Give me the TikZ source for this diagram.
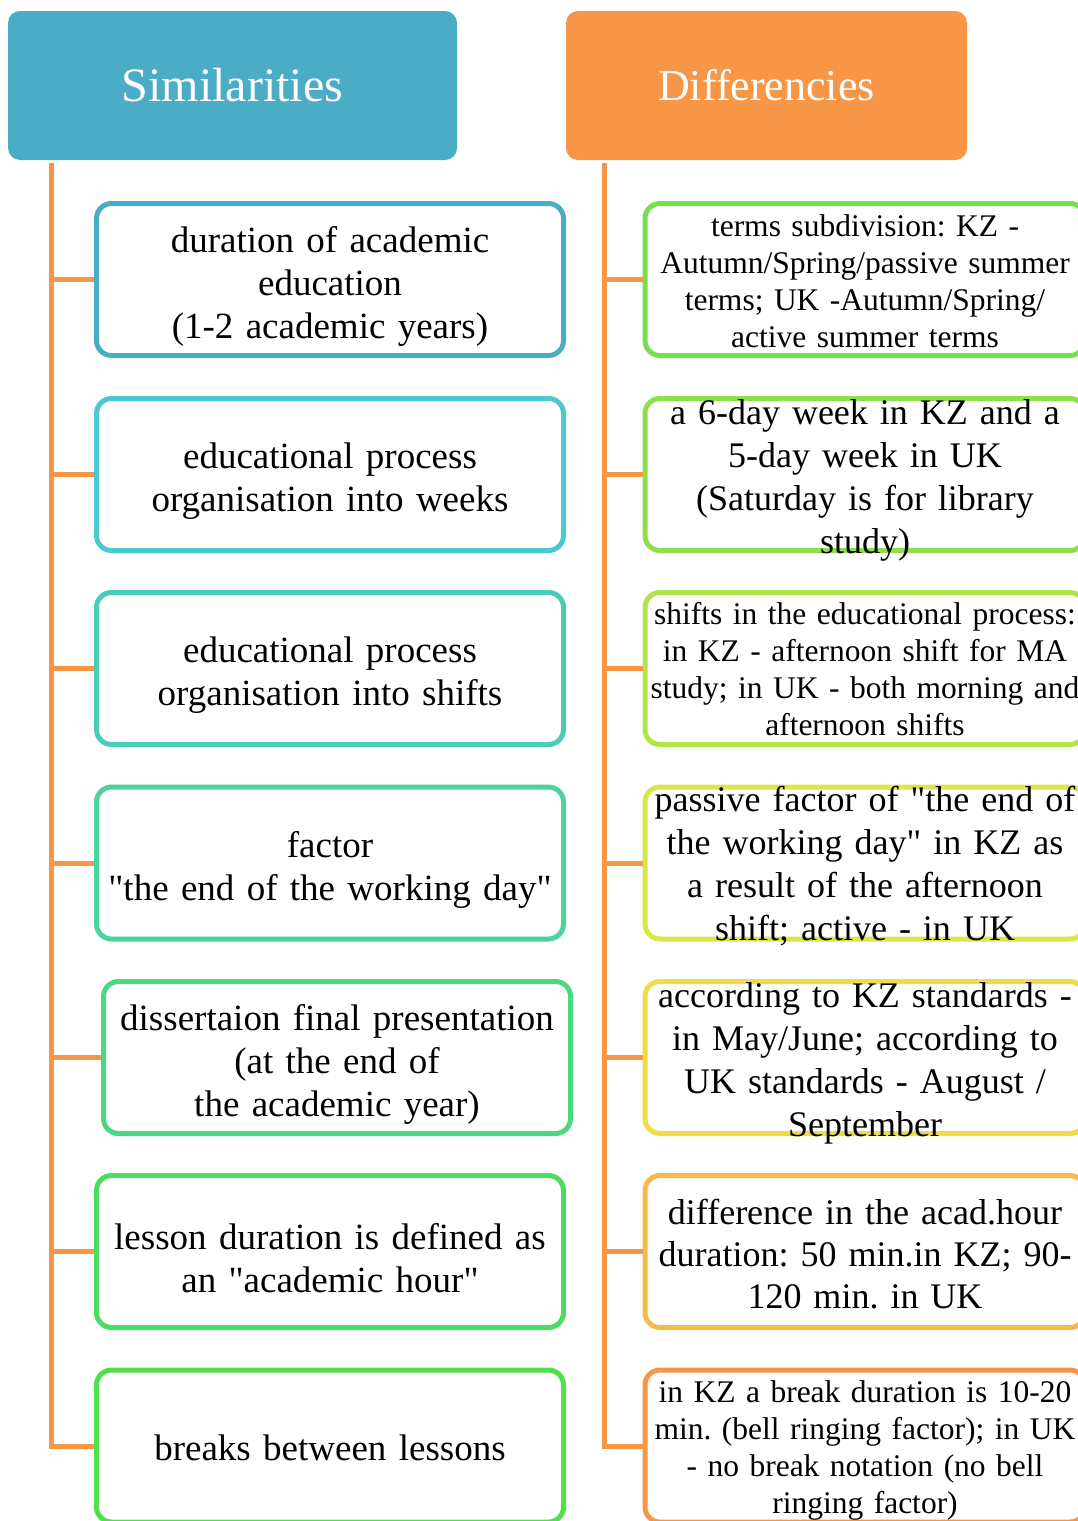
\documentclass[tikz,border=0pt]{standalone}
\usepackage{fontspec}
\setmainfont{Liberation Serif}
\definecolor{simhead}{HTML}{4BACC6}
\definecolor{difhead}{HTML}{F79646}
\definecolor{sim1}{HTML}{4BACC6}
\definecolor{sim2}{HTML}{4CC9D0}
\definecolor{sim3}{HTML}{4BCDB5}
\definecolor{sim4}{HTML}{4BD39B}
\definecolor{sim5}{HTML}{4BD883}
\definecolor{sim6}{HTML}{4CDC62}
\definecolor{sim7}{HTML}{4FE04B}
\definecolor{dif1}{HTML}{74E04B}
\definecolor{dif2}{HTML}{8EE04B}
\definecolor{dif3}{HTML}{B2E34B}
\definecolor{dif4}{HTML}{D8E84B}
\definecolor{dif5}{HTML}{F3DA4B}
\definecolor{dif6}{HTML}{F5BA4B}
\definecolor{dif7}{HTML}{F79646}
\newcommand{\qt}{\textquotedbl}

\begin{document}
\frenchspacing
\begin{tikzpicture}[x=1pt, y=-1pt,
  head/.style={rounded corners=12pt, minimum height=149pt, inner sep=0pt,
               text=white},
  simbox/.style={draw, line width=5pt, rounded corners=15pt, fill=white,
                 minimum width=467pt, minimum height=152pt, inner sep=0pt},
  difbox/.style={draw, line width=5pt, rounded corners=15pt, fill=white,
                 minimum width=440pt, minimum height=152pt, inner sep=0pt},
  big/.style={align=center, text width=470pt, inner sep=0pt,
              font=\fontsize{37}{43}\selectfont},
  mid/.style={align=center, text width=440pt, inner sep=0pt,
              font=\fontsize{36}{43}\selectfont},
  small/.style={align=center, text width=440pt, inner sep=0pt,
                font=\fontsize{31.5}{37}\selectfont},
  branch/.style={line width=5pt, difhead},
]
\useasboundingbox (0,0) rectangle (1077,1521);

\node[head, fill=simhead, minimum width=449pt, font=\fontsize{48}{52}\selectfont] (sim) at (232.5,85.5) {Similarities};
\node[head, fill=difhead, minimum width=401pt, font=\fontsize{44}{52}\selectfont] (dif) at (766.5,85.5) {Differencies};

\coordinate (ltop) at (51,163);
\coordinate (rtop) at (604,163);

\node[simbox, draw=sim1] (s1) at (330,279.5) {};
\node[simbox, draw=sim2] (s2) at (330,474.5) {};
\node[simbox, draw=sim3] (s3) at (330,668.5) {};
\node[simbox, draw=sim4] (s4) at (330,863) {};
\node[simbox, draw=sim5] (s5) at (337,1057.5) {};
\node[simbox, draw=sim6] (s6) at (330,1251.5) {};
\node[simbox, draw=sim7] (s7) at (330,1446) {};

\node[difbox, draw=dif1] (d1) at (865,279.5) {};
\node[difbox, draw=dif2] (d2) at (865,474.5) {};
\node[difbox, draw=dif3] (d3) at (865,668.5) {};
\node[difbox, draw=dif4] (d4) at (865,863) {};
\node[difbox, draw=dif5] (d5) at (865,1057.5) {};
\node[difbox, draw=dif6] (d6) at (865,1251.5) {};
\node[difbox, draw=dif7] (d7) at (865,1446) {};

\node[big] (s1t) at ([yshift=-7pt]s1) {duration of academic\\education\\(1-2 academic years)};
\node[big] (s2t) at ([yshift=-7pt]s2) {educational process\\organisation into weeks};
\node[big] (s3t) at ([yshift=-7pt]s3) {educational process\\organisation into shifts};
\node[big] (s4t) at ([yshift=-7pt]s4) {factor\\\qt the end of the working day\qt};
\node[big] (s5t) at ([yshift=-7pt]s5) {dissertaion final presentation\\(at the end of\\the academic year)};
\node[big] (s6t) at ([yshift=-7pt]s6) {lesson duration is defined as\\an \qt academic hour\qt};
\node[big] (s7t) at ([yshift=-2pt]s7) {breaks between lessons};

\node[small] (d1t) at ([yshift=-2pt]d1) {terms subdivision: KZ -\\Autumn/Spring/passive summer\\terms; UK -Autumn/Spring/\\active summer terms};
\node[mid] (d2t) at ([yshift=-6pt]d2) {a 6-day week in KZ and a\\5-day week in UK\\(Saturday is for library\\study)};
\node[small] (d3t) at ([yshift=-1pt]d3) {shifts in the educational process:\\in KZ - afternoon shift for MA\\study; in UK - both morning and\\afternoon shifts};
\node[mid] (d4t) at ([yshift=-3pt]d4) {passive factor of \qt the end of\\the working day\qt{} in KZ as\\a result of the afternoon\\shift; active - in UK};
\node[mid] (d5t) at ([yshift=-6pt]d5) {according to KZ standards -\\in May/June; according to\\UK standards - August /\\September};
\node[mid, font=\fontsize{36}{42}\selectfont] (d6t) at ([yshift=-3pt]d6) {difference in the acad.hour\\duration: 50 min.in KZ; 90-\\120 min. in UK};
\node[small] (d7t) at ([yshift=-4pt]d7) {in KZ a break duration is 10-20\\min. (bell ringing factor); in UK\\- no break notation (no bell\\ringing factor)};

\draw[branch] (ltop) |- (s7.west);
\draw[branch] (ltop |- s1) -- (s1.west);
\draw[branch] (ltop |- s2) -- (s2.west);
\draw[branch] (ltop |- s3) -- (s3.west);
\draw[branch] (ltop |- s4) -- (s4.west);
\draw[branch] (ltop |- s5) -- (s5.west);
\draw[branch] (ltop |- s6) -- (s6.west);

\draw[branch] (rtop) |- (d7.west);
\draw[branch] (rtop |- d1) -- (d1.west);
\draw[branch] (rtop |- d2) -- (d2.west);
\draw[branch] (rtop |- d3) -- (d3.west);
\draw[branch] (rtop |- d4) -- (d4.west);
\draw[branch] (rtop |- d5) -- (d5.west);
\draw[branch] (rtop |- d6) -- (d6.west);

\end{tikzpicture}
\end{document}
